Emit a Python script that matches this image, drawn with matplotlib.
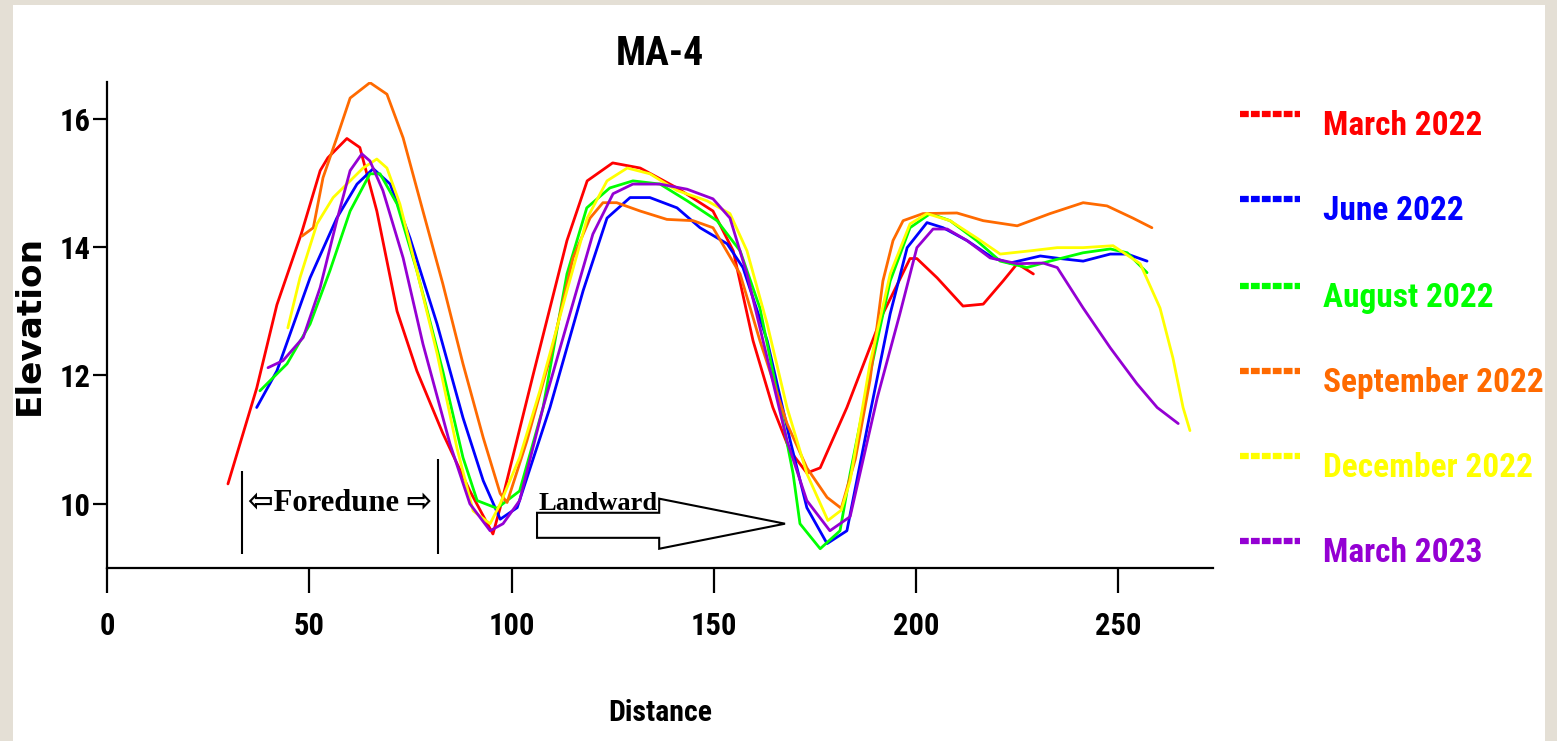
import matplotlib
matplotlib.use("Agg")
import matplotlib.pyplot as plt
from matplotlib import font_manager as fm
from matplotlib.patches import Rectangle, Polygon
from matplotlib.lines import Line2D

# ---------------- data ----------------
labels = ["March 2022", "June 2022", "August 2022", "September 2022", "December 2022", "March 2023"]
colors = ["#FF0000", "#0000FF", "#00FF00", "#FF6A00", "#FFFF00", "#9400D3"]

mar22_x = [29.9, 37, 42, 48, 52.7, 54.6, 59.3, 62.5, 66.7, 71.7, 76.6, 83, 89.7, 95.4, 97.2, 105.3, 113.7, 118.7,
           125, 131.8, 140.9, 149.8, 154.8, 159.7, 164.6, 168.8, 173, 176.3, 182.9, 191.8, 198.5, 200.2, 205.2,
           211.6, 216.6, 221.5, 225, 229]
mar22_y = [10.31, 11.8, 13.1, 14.2, 15.19, 15.39, 15.69, 15.55, 14.56, 13.0, 12.07, 11.1, 10.2, 9.53, 9.94, 12.0,
           14.1, 15.03, 15.31, 15.23, 14.92, 14.56, 13.94, 12.54, 11.5, 10.83, 10.48, 10.56, 11.5, 12.96, 13.82,
           13.82, 13.52, 13.08, 13.11, 13.47, 13.74, 13.58]

jun22_x = [37, 42, 50.2, 56.8, 61.8, 65.8, 70, 74.9, 81.6, 88, 93, 97.2, 101.4, 109.5, 117.7, 123.6, 129.3, 134.2,
           140.9, 146.6, 153.3, 157.2, 163.2, 168.9, 173, 178, 182.9, 188.6, 193.6, 197.8, 202.7, 206.7, 212.6,
           219, 223.2, 230.7, 235.6, 241.3, 248, 252.2, 257.1]
jun22_y = [11.5, 12.07, 13.52, 14.45, 14.98, 15.22, 14.98, 14.14, 12.8, 11.34, 10.36, 9.76, 9.94, 11.5, 13.32,
           14.45, 14.77, 14.77, 14.61, 14.3, 14.05, 13.68, 12.54, 10.98, 9.94, 9.38, 9.58, 11.4, 12.96, 13.99,
           14.38, 14.3, 14.1, 13.83, 13.75, 13.86, 13.82, 13.78, 13.89, 13.89, 13.78]

aug22_x = [37.8, 44.5, 50.2, 55.1, 60.1, 65, 67.5, 71.7, 76.6, 83, 88, 91.5, 96.4, 102, 107.8, 113.7, 118.6, 124.3,
           130, 136.7, 143.4, 150.8, 156.5, 161.4, 166.4, 169.6, 171.3, 176.3, 181.2, 183.7, 188.6, 193.6, 198.5,
           203.5, 208.4, 215, 220.8, 227.4, 233.1, 241.3, 248, 252.2, 257.1]
aug22_y = [11.76, 12.18, 12.8, 13.63, 14.56, 15.14, 15.14, 14.67, 13.63, 12.07, 10.72, 10.05, 9.93, 10.2, 11.5,
           13.58, 14.61, 14.92, 15.03, 14.98, 14.72, 14.41, 13.94, 13.05, 11.5, 10.47, 9.69, 9.3, 9.58, 10.47,
           12.02, 13.47, 14.3, 14.52, 14.41, 14.1, 13.78, 13.68, 13.78, 13.91, 13.97, 13.91, 13.6]

sep22_x = [48.2, 51, 53.4, 56.8, 60.1, 65, 69.2, 73.2, 78.1, 83, 88, 93, 97.2, 98.9, 103.8, 109.5, 115.2, 119.4,
           122.6, 126, 131.8, 138.4, 144.9, 149.8, 156.5, 161.4, 168.1, 173, 178, 181.5, 185, 188.6, 191.8, 194.3,
           196.8, 201.7, 210.1, 216.6, 225, 233.1, 241.3, 247.2, 253.6, 258.3]
sep22_y = [14.17, 14.3, 15.08, 15.7, 16.32, 16.56, 16.38, 15.7, 14.56, 13.43, 12.18, 11.03, 10.16, 10.02, 10.98,
           12.27, 13.83, 14.45, 14.69, 14.69, 14.56, 14.43, 14.41, 14.3, 13.58, 12.54, 11.25, 10.56, 10.1, 9.93,
           10.7, 11.92, 13.47, 14.1, 14.41, 14.52, 14.53, 14.41, 14.33, 14.52, 14.69, 14.64, 14.45, 14.3]

dec22_x = [44.7, 47.7, 51.9, 55.9, 60.1, 63.3, 66.7, 69.2, 72.4, 76.6, 81.6, 86.5, 90.5, 94.7, 97.2, 102, 107, 113.7,
           118.7, 123.6, 128.6, 134.2, 140.9, 148.3, 154, 158.2, 163.2, 168.1, 173, 178.2, 181.5, 183.7, 188.6,
           193.6, 198.5, 202.7, 208.4, 215, 220.8, 228.2, 234.9, 241.3, 248.7, 255.4, 260.3, 263.5, 266, 267.7]
dec22_y = [12.74, 13.52, 14.36, 14.77, 15.03, 15.23, 15.37, 15.23, 14.67, 13.63, 12.34, 10.87, 9.89, 9.69, 10.0,
           10.72, 11.76, 13.32, 14.45, 15.03, 15.23, 15.14, 14.88, 14.72, 14.52, 13.94, 12.8, 11.5, 10.47, 9.74,
           9.9, 10.36, 12.18, 13.58, 14.36, 14.52, 14.41, 14.14, 13.89, 13.94, 13.99, 13.99, 14.02, 13.74, 13.05,
           12.27, 11.5, 11.14]

mar23_x = [39.8, 43.5, 48.5, 52.7, 56.8, 60.1, 63, 65, 68.2, 73.2, 78.1, 84.8, 89.7, 94.7, 97.9, 102, 107.8, 113.7,
           120.1, 125.1, 130, 136.7, 143.4, 149.8, 154, 158.2, 163.2, 168.1, 173, 178.7, 183.7, 190.4, 196, 200.2,
           204.2, 207.7, 212.6, 218.3, 225, 231.4, 234.9, 241.3, 248, 254.6, 259.6, 264.8]
mar23_y = [12.12, 12.23, 12.59, 13.37, 14.41, 15.19, 15.45, 15.34, 14.88, 13.83, 12.49, 10.93, 10.0, 9.58, 9.69,
           10.05, 11.5, 12.8, 14.2, 14.83, 14.98, 14.98, 14.9, 14.75, 14.45, 13.58, 12.27, 10.98, 10.05, 9.58, 9.8,
           11.65, 12.96, 13.99, 14.28, 14.28, 14.1, 13.83, 13.74, 13.75, 13.68, 13.05, 12.43, 11.87, 11.5, 11.25]

series_x = [mar22_x, jun22_x, aug22_x, sep22_x, dec22_x, mar23_x]
series_y = [mar22_y, jun22_y, aug22_y, sep22_y, dec22_y, mar23_y]

x_ticks = [0, 50, 100, 150, 200, 250]
y_ticks = [10, 12, 14, 16]

# ---------------- fonts ----------------
_names = {f.name for f in fm.fontManager.ttflist}
_cands = ["Liberation Sans Narrow", "Arial Narrow", "Roboto Condensed", "Open Sans Condensed",
          "DejaVu Sans Condensed", "Noto Sans Condensed", "Ubuntu Condensed", "Roboto"]
NARROW_FAMILY = next((c for c in _cands if c in _names), "DejaVu Sans")
_cond = any(f.name == NARROW_FAMILY and f.stretch == "condensed" for f in fm.fontManager.ttflist)
NARROW = [NARROW_FAMILY, "DejaVu Sans"]
STRETCH = "condensed" if _cond else "normal"

# ---------------- figure ----------------
W, H = 1557, 741
fig = plt.figure(figsize=(W / 100, H / 100), dpi=100, facecolor="#E4DFD5")
fig.patches.append(Rectangle((13 / W, 0), (1545 - 13) / W, (H - 5) / H, transform=fig.transFigure,
                             facecolor="white", edgecolor="none", zorder=-5))

ax = fig.add_axes([107 / W, 1 - 568 / H, (1213 - 107) / W, (568 - 82) / H])
ax.set_facecolor("white")
ax.set_xlim(0, 273.4)
ax.set_ylim(9, 16.57)

for xs, ys, c in zip(series_x, series_y, colors):
    ax.plot(xs, ys, color=c, lw=2.0, solid_joinstyle="round", solid_capstyle="round")

for s in ["top", "right"]:
    ax.spines[s].set_visible(False)
for s in ["left", "bottom"]:
    ax.spines[s].set_linewidth(1.6)
    ax.spines[s].set_color("black")

ax.set_xticks(x_ticks)
ax.set_yticks(y_ticks)
ax.tick_params(axis="x", direction="out", length=18, width=1.6, pad=13)
ax.tick_params(axis="y", direction="out", length=10, width=1.6, pad=2)
for lab in ax.get_xticklabels() + ax.get_yticklabels():
    lab.set_fontfamily(NARROW)
    lab.set_fontweight("bold")
    lab.set_fontstretch(STRETCH)
    lab.set_fontsize(26)

title = ax.set_title("MA-4", fontsize=30, fontweight="bold", family=NARROW, fontstretch=STRETCH,
                     y=1.035, pad=0)
xlab = ax.set_xlabel("Distance", fontsize=24, fontweight="bold", family=NARROW, fontstretch=STRETCH)
ax.xaxis.set_label_coords(0.5, -0.27)
ylab = ax.set_ylabel("Elevation", fontsize=22, fontweight="bold", family=["DejaVu Sans"])
ax.yaxis.set_label_coords(-0.055, 0.5)

# ---------------- annotations ----------------
ax.vlines([33.4], 9.22, 10.51, color="black", lw=1.5)
ax.vlines([81.8], 9.22, 10.70, color="black", lw=1.5)
fore = ax.text(57.6, 10.0, "\u21e6Foredune \u21e8", ha="center", va="center", fontsize=18, fontweight="bold",
               family=["Liberation Serif", "DejaVu Sans"], color="black")
arrow = Polygon([(106.3, 9.86), (136.5, 9.86), (136.5, 10.08), (167.6, 9.69), (136.5, 9.30), (136.5, 9.47),
                 (106.3, 9.47)], closed=True, facecolor="white", edgecolor="black", lw=1.5, zorder=1)
ax.add_patch(arrow)
land = ax.text(106.6, 9.9, "Landward", ha="left", va="baseline", fontsize=18, fontweight="bold",
               family=["Liberation Serif", "DejaVu Sans"], color="black")

# ---------------- legend ----------------
leg_base = [135, 220, 307, 392, 477, 562]
leg_texts = []
for lab, c, yb in zip(labels, colors, leg_base):
    yl = yb - 21
    fig.add_artist(Line2D([1240 / W, 1300 / W], [1 - yl / H, 1 - yl / H], transform=fig.transFigure,
                          color=c, lw=4.5, linestyle=(0, (1.4, 0.35))))
    leg_texts.append(fig.text(1323 / W, 1 - yb / H, lab, color=c, fontsize=26, fontweight="bold",
                              family=NARROW, fontstretch=STRETCH, ha="left", va="baseline"))

# ---------------- fit text widths to the reference ----------------
def fit(artists, target_px, width=True):
    fig.canvas.draw()
    r = fig.canvas.get_renderer()
    a0 = artists[0]
    bb = a0.get_window_extent(r)
    cur = bb.width if width else bb.height
    new = a0.get_fontsize() * target_px / cur
    for a in artists:
        a.set_fontsize(new)

for _ in range(2):
    fit([ax.get_xticklabels()[2]] + ax.get_xticklabels() + ax.get_yticklabels(), 47)
    fit([title], 88)
    fit([xlab], 104)
    fit([ylab], 180, width=False)
    fit([fore], 184)
    fit([land], 119)
    fit([leg_texts[3]] + leg_texts, 221)

fig.savefig("out.png", dpi=100, facecolor=fig.get_facecolor())
